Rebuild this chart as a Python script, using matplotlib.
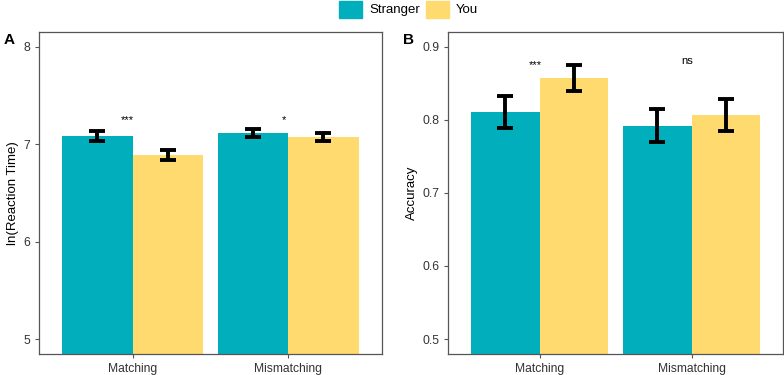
import numpy as np
import matplotlib.pyplot as plt
from matplotlib.patches import Patch

plt.rcParams['font.family'] = ['Liberation Sans', 'DejaVu Sans']

# datos
condiciones = ['Matching', 'Mismatching']
grupos = ['Stranger', 'You']
colores = ['#00AFBB', '#FFDA6F']

rt_media = {'Stranger': [7.08, 7.11], 'You': [6.89, 7.07]}
rt_err = {'Stranger': [0.05, 0.04], 'You': [0.05, 0.04]}
rt_sig = ['***', '*']

acc_media = {'Stranger': [0.810, 0.792], 'You': [0.857, 0.806]}
acc_err = {'Stranger': [0.022, 0.023], 'You': [0.018, 0.022]}
acc_sig = ['***', 'ns']

fig = plt.figure(figsize=(7.84, 3.75), dpi=100)
axA = fig.add_axes([0.0497, 0.0568, 0.4375, 0.858])
axB = fig.add_axes([0.5718, 0.0568, 0.4269, 0.858])

def panel(ax, medias, errs, sigs, ylim, yticks, ylabel, sig_y, etiqueta, lx):
    x = np.arange(1, len(condiciones) + 1)
    w = 0.45
    for k, g in enumerate(grupos):
        pos = x + (k - 0.5) * w
        ax.bar(pos, medias[g], width=w, color=colores[k], zorder=1)
        ax.errorbar(pos, medias[g], yerr=errs[g], fmt='none', ecolor='black',
                    elinewidth=2.8, capsize=5.5, capthick=2.8, zorder=2)
    for i, s in enumerate(sigs):
        ax.text(x[i] - 0.03, sig_y[i], s, ha='center', va='center', fontsize=8)
    ax.set_xlim(0.4, 2.6)
    ax.set_ylim(*ylim)
    ax.set_yticks(yticks)
    ax.set_xticks(x)
    ax.set_xticklabels(condiciones)
    ax.set_ylabel(ylabel, fontsize=9.5, labelpad=3)
    for sp in ax.spines.values():
        sp.set_color('#555555')
        sp.set_linewidth(0.9)
    ax.tick_params(length=3, width=0.8, color='#555555', labelsize=8.7, labelcolor='#333333')
    ax.text(lx, 0.975, etiqueta, transform=ax.transAxes, fontsize=11,
            fontweight='bold', ha='center', va='center')

panel(axA, rt_media, rt_err, rt_sig, (4.85, 8.15), [5, 6, 7, 8],
      'ln(Reaction Time)', [7.25, 7.25], 'A', -0.087)
axA.set_yticklabels(['5', '6', '7', '8'])
panel(axB, acc_media, acc_err, acc_sig, (0.48, 0.92), [0.5, 0.6, 0.7, 0.8, 0.9],
      'Accuracy', [0.875, 0.88], 'B', -0.118)
axB.set_yticklabels(['0.5', '0.6', '0.7', '0.8', '0.9'])

handles = [Patch(color=colores[k], label=g) for k, g in enumerate(grupos)]
fig.legend(handles=handles, loc='upper center', bbox_to_anchor=(0.521, 1.03), ncol=2,
           frameon=False, fontsize=9.5, handlelength=1.75, handleheight=1.6,
           columnspacing=0.45, handletextpad=0.55)

fig.savefig('out.png', dpi=100)
